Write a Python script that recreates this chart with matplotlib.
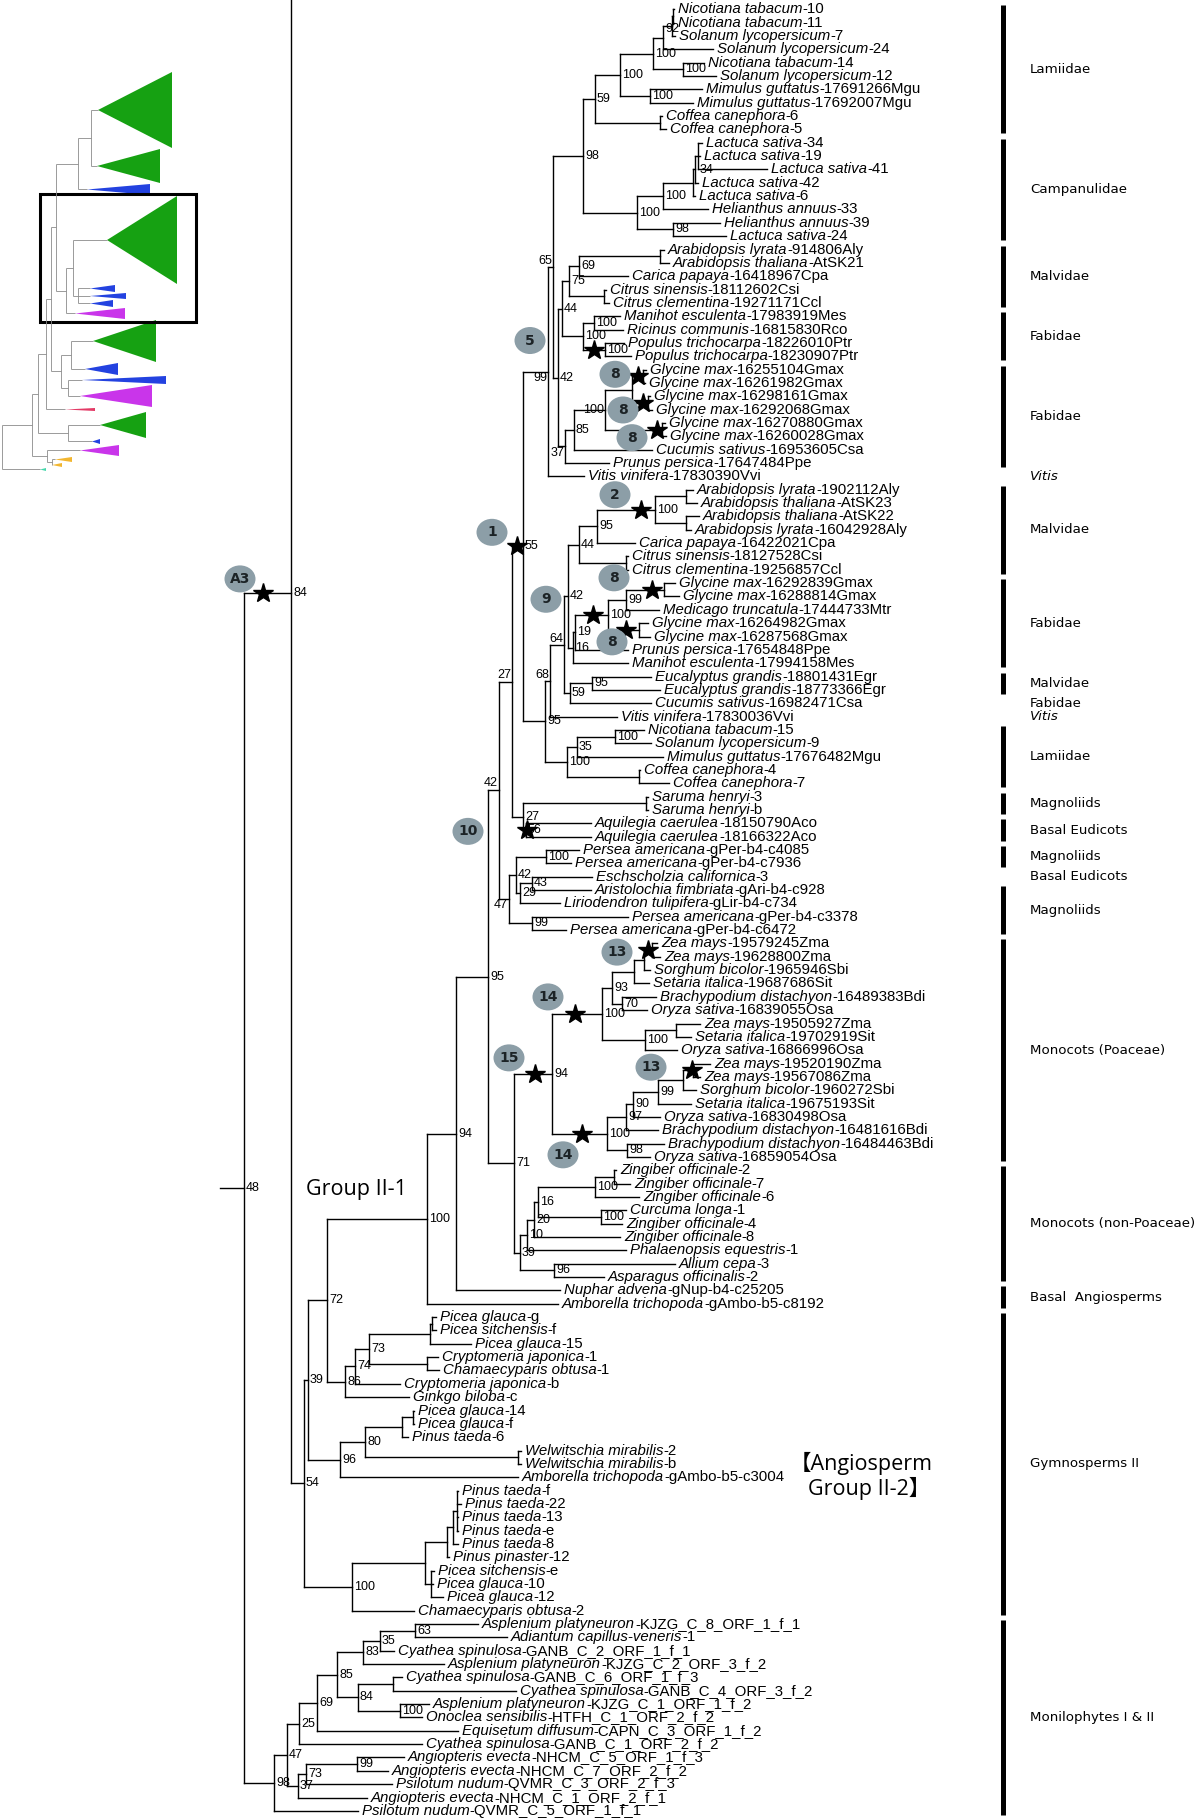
import matplotlib
matplotlib.use("Agg")
import matplotlib.pyplot as plt
from matplotlib.collections import LineCollection
from matplotlib.patches import Ellipse, Polygon, Rectangle

plt.rcParams['font.family'] = ['Liberation Sans', 'DejaVu Sans']

# ---------------- tree data: Newick, "genus species|-id" (italic part before |) ----------------
LAMIIDAE = (
    "(((((('Nicotiana tabacum|-10':0.001,'Nicotiana tabacum|-11':0.001):0.001,"
    "'Solanum lycopersicum|-7':0.003):0.009,'Solanum lycopersicum|-24':0.050)92:0.010,"
    "('Nicotiana tabacum|-14':0.021,'Solanum lycopersicum|-12':0.033)100:0.030)100:0.033,"
    "('Mimulus guttatus|-17691266Mgu':0.052,'Mimulus guttatus|-17692007Mgu':0.043)100:0.030)100:0.025,"
    "('Coffea canephora|-6':0.002,'Coffea canephora|-5':0.006):0.065)59:0.012"
)
CAMPANULIDAE = (
    "((((('Lactuca sativa|-34':0.004,'Lactuca sativa|-19':0.002,'Lactuca sativa|-41':0.069)34:0.003,"
    "'Lactuca sativa|-42':0.003):0.002,'Lactuca sativa|-6':0.002):0.030,"
    "'Helianthus annuus|-33':0.045)100:0.026,"
    "('Helianthus annuus|-39':0.047,'Lactuca sativa|-24':0.053)98:0.036)100:0.054"
)
ROSIDS_A = (
    "((((('Arabidopsis lyrata|-914806Aly':0.004,'Arabidopsis thaliana|-AtSK21':0.009):0.081,"
    "'Carica papaya|-16418967Cpa':0.049)69:0.010,"
    "('Citrus sinensis|-18112602Csi':0.002,'Citrus clementina|-19271171Ccl':0.005):0.035)75:0.007,"
    "(('Manihot esculenta|-17983919Mes':0.026,'Ricinus communis|-16815830Rco':0.029)100:0.011,"
    "('Populus trichocarpa|-18226010Ptr':0.019,'Populus trichocarpa|-18230907Ptr':0.026)100:0.022)100:0.021)44:0.004,"
    "((((('Glycine max|-16255104Gmax':0.003,'Glycine max|-16261982Gmax':0.002):0.011,"
    "('Glycine max|-16298161Gmax':0.002,'Glycine max|-16292068Gmax':0.004):0.016):0.027,"
    "('Glycine max|-16270880Gmax':0.003,'Glycine max|-16260028Gmax':0.004):0.057)100:0.031,"
    "'Cucumis sativus|-16953605Csa':0.078)85:0.009,"
    "'Prunus persica|-17647484Ppe':0.044)37:0.007)42:0.005"
)
ROSIDS_B = (
    "((((((('Arabidopsis lyrata|-1902112Aly':0.007,'Arabidopsis thaliana|-AtSK23':0.011):0.031,"
    "('Arabidopsis thaliana|-AtSK22':0.013,'Arabidopsis lyrata|-16042928Aly':0.005):0.031)100:0.058,"
    "'Carica papaya|-16422021Cpa':0.038)95:0.018,"
    "('Citrus sinensis|-18127528Csi':0.002,'Citrus clementina|-19256857Ccl':0.002):0.047)44:0.011,"
    "((((('Glycine max|-16292839Gmax':0.011,'Glycine max|-16288814Gmax':0.015):0.038,"
    "'Medicago truncatula|-17444733Mtr':0.033)99:0.018,"
    "('Glycine max|-16264982Gmax':0.009,'Glycine max|-16287568Gmax':0.011):0.031)100:0.033,"
    "'Prunus persica|-17654848Ppe':0.053)19:0.002,"
    "'Manihot esculenta|-17994158Mes':0.055)16:0.005)42:0.004,"
    "(('Eucalyptus grandis|-18801431Egr':0.059,'Eucalyptus grandis|-18773366Egr':0.068)95:0.022,"
    "'Cucumis sativus|-16982471Csa':0.081)59:0.006)64:0.014,"
    "'Vitis vinifera|-17830036Vvi':0.067)68:0.005"
)
LAMIIDAE_2 = (
    "((('Nicotiana tabacum|-15':0.029,'Solanum lycopersicum|-9':0.036)100:0.038,"
    "'Mimulus guttatus|-17676482Mgu':0.086)35:0.010,"
    "('Coffea canephora|-4':0.001,'Coffea canephora|-7':0.030):0.072)100:0.022"
)
SARUMA_AQUILEGIA = (
    "(('Saruma henryi|-3':0.002,'Saruma henryi|-b':0.002):0.123,"
    "('Aquilegia caerulea|-18150790Aco':0.065,'Aquilegia caerulea|-18166322Aco':0.065)56:0.003)27:0.011"
)
MAGNOLIIDS = (
    "((('Persea americana|-gPer-b4-c4085':0.033,'Persea americana|-gPer-b4-c7936':0.025)100:0.030,"
    "(('Eschscholzia californica|-3':0.060,'Aristolochia fimbriata|-gAri-b4-c928':0.059)43:0.012,"
    "'Liriodendron tulipifera|-gLir-b4-c734':0.040)29:0.004)42:0.007,"
    "('Persea americana|-gPer-b4-c3378':0.096,'Persea americana|-gPer-b4-c6472':0.034)99:0.023)47:0.010"
)
POACEAE = (
    "(((((('Zea mays|-19579245Zma':0.005,'Zea mays|-19628800Zma':0.008):0.008,"
    "'Sorghum bicolor|-1965946Sbi':0.006):0.010,'Setaria italica|-19687686Sit':0.015):0.022,"
    "('Brachypodium distachyon|-16489383Bdi':0.034,'Oryza sativa|-16839055Osa':0.025)70:0.010)93:0.010,"
    "(('Zea mays|-19505927Zma':0.024,'Setaria italica|-19702919Sit':0.015):0.031,"
    "'Oryza sativa|-16866996Osa':0.032)100:0.043)100:0.050,"
    "(((((('Zea mays|-19520190Zma':0.017,'Zea mays|-19567086Zma':0.007):0.010,"
    "'Sorghum bicolor|-1960272Sbi':0.013):0.025,'Setaria italica|-19675193Sit':0.033)99:0.025,"
    "'Oryza sativa|-16830498Osa':0.027)90:0.007,'Brachypodium distachyon|-16481616Bdi':0.032)97:0.019,"
    "('Brachypodium distachyon|-16484463Bdi':0.037,'Oryza sativa|-16859054Osa':0.023)98:0.020)100:0.055)94:0.038"
)
OTHER_MONOCOTS = (
    "(((((('Zingiber officinale|-2':0.002,'Zingiber officinale|-7':0.016):0.019,"
    "'Zingiber officinale|-6':0.044)100:0.057,"
    "('Curcuma longa|-1':0.025,'Zingiber officinale|-4':0.021)100:0.063)16:0.004,"
    "'Zingiber officinale|-8':0.086)20:0.007,'Phalaenopsis equestris|-1':0.099)10:0.007,"
    "('Allium cepa|-3':0.121,'Asparagus officinalis|-2':0.050)96:0.034)39:0.006"
)
GYMNO_A = (
    "((((('Picea glauca|-g':0.004,'Picea sitchensis|-f':0.004):0.002,'Picea glauca|-15':0.041):0.061,"
    "('Cryptomeria japonica|-1':0.011,'Chamaecyparis obtusa|-1':0.012):0.058)73:0.014,"
    "'Cryptomeria japonica|-b':0.045)74:0.010,'Ginkgo biloba|-c':0.064)86:0.018"
)
GYMNO_B = (
    "(((('Picea glauca|-14':0.001,'Picea glauca|-f':0.001):0.011,'Pinus taeda|-6':0.006):0.037,"
    "('Welwitschia mirabilis|-2':0.003,'Welwitschia mirabilis|-b':0.003):0.153)80:0.025,"
    "'Amborella trichopoda|-gAmbo-b5-c3004':0.178)96:0.032"
)
PINACEAE = (
    "((((('Pinus taeda|-f':0.001,'Pinus taeda|-22':0.004,'Pinus taeda|-13':0.001,'Pinus taeda|-e':0.001):0.004,"
    "'Pinus taeda|-8':0.005):0.006,'Pinus pinaster|-12':0.002):0.022,"
    "('Picea sitchensis|-e':0.003,'Picea glauca|-10':0.002,'Picea glauca|-12':0.012):0.006):0.073,"
    "'Chamaecyparis obtusa|-2':0.062)100:0.048"
)
FERNS = (
    "(((((((('Asplenium platyneuron|-KJZG_C_8_ORF_1_f_1':0.063,'Adiantum capillus-veneris|-1':0.092)63:0.035,"
    "'Cyathea spinulosa|-GANB_C_2_ORF_1_f_1':0.014)35:0.017,"
    "'Asplenium platyneuron|-KJZG_C_2_ORF_3_f_2':0.081)83:0.026,"
    "(('Cyathea spinulosa|-GANB_C_6_ORF_1_f_3':0.009,'Cyathea spinulosa|-GANB_C_4_ORF_3_f_2':0.123):0.035,"
    "('Asplenium platyneuron|-KJZG_C_1_ORF_1_f_2':0.029,'Onoclea sensibilis|-HTFH_C_1_ORF_2_f_2':0.022)100:0.042)84:0.021)85:0.020,"
    "'Equisetum diffusum|-CAPN_C_3_ORF_1_f_2':0.141)69:0.018,"
    "'Cyathea spinulosa|-GANB_C_1_ORF_2_f_2':0.123)25:0.012,"
    "((('Angiopteris evecta|-NHCM_C_5_ORF_1_f_3':0.047,'Angiopteris evecta|-NHCM_C_7_ORF_2_f_2':0.031)99:0.051,"
    "'Psilotum nudum|-QVMR_C_3_ORF_2_f_3':0.086)73:0.008,"
    "'Angiopteris evecta|-NHCM_C_1_ORF_2_f_1':0.069)37:0.011)47:0.013,"
    "'Psilotum nudum|-QVMR_C_5_ORF_1_f_1':0.084)98:0.030"
)

UPPER_EUDICOTS = "((" + "(" + LAMIIDAE + "," + CAMPANULIDAE + ")98:0.030," + ROSIDS_A + \
    ")65:0.005,'Vitis vinifera|-17830390Vvi':0.036)99:0.025"
CORE_EUDICOTS = "(" + UPPER_EUDICOTS + ",(" + ROSIDS_B + "," + LAMIIDAE_2 + ")95:0.022)55:0.011"
EUDICOTS = "(" + CORE_EUDICOTS + "," + SARUMA_AQUILEGIA + ")27:0.013"
MONOCOTS = "(" + POACEAE + "," + OTHER_MONOCOTS + ")71:0.026"
MESANGIOSPERMS = "((" + EUDICOTS + "," + MAGNOLIIDS + ")42:0.011," + MONOCOTS + ")95:0.032"
ANGIOSPERMS = "((" + MESANGIOSPERMS + ",'Nuphar advena|-gNup-b4-c25205':0.104)94:0.029," \
    "'Amborella trichopoda|-gAmbo-b5-c8192':0.131)100:0.100"
SEED_PLANTS = "(((" + ANGIOSPERMS + "," + GYMNO_A + ")72:0.019," + GYMNO_B + ")39:0.004," + PINACEAE + ")54:0.013"
TREE = "(('upper':0," + SEED_PLANTS + ")84:0.047," + FERNS + ")48:0.024;"

# rest of the big tree lies above the excerpt
hidden_rows = {"upper": -23}

# clade annotations on the right (leaf row ranges)
clade_names = ["Lamiidae", "Campanulidae", "Malvidae", "Fabidae", "Fabidae", "Vitis", "Malvidae",
               "Fabidae", "Malvidae", "Fabidae", "Vitis", "Lamiidae", "Magnoliids", "Basal Eudicots",
               "Magnoliids", "Basal Eudicots", "Magnoliids", "Monocots (Poaceae)",
               "Monocots (non-Poaceae)", "Basal  Angiosperms", "Gymnosperms II", "Monilophytes I & II"]
clade_first = [0, 10, 18, 23, 27, 35, 36, 43, 50, 52, 53, 54, 59, 61, 63, 65, 66, 70, 87, 96, 98, 121]
clade_last = [9, 17, 22, 26, 34, 35, 42, 49, 51, 52, 53, 58, 60, 62, 64, 65, 69, 86, 95, 97, 120, 135]
clade_bar = [1, 1, 1, 1, 1, 0, 1, 1, 1, 0, 0, 1, 1, 1, 1, 0, 1, 1, 1, 1, 1, 1]

# duplication stars: node = MRCA(a, b), drawn this many px left of the node
stars = [
    ("upper", "Chamaecyparis obtusa-2", 28),
    ("Nicotiana tabacum-10", "Coffea canephora-7", 6),
    ("Populus trichocarpa-18226010Ptr", "Populus trichocarpa-18230907Ptr", 11),
    ("Glycine max-16255104Gmax", "Glycine max-16261982Gmax", 5),
    ("Glycine max-16298161Gmax", "Glycine max-16292068Gmax", 5),
    ("Glycine max-16270880Gmax", "Glycine max-16260028Gmax", 5),
    ("Arabidopsis lyrata-1902112Aly", "Arabidopsis lyrata-16042928Aly", 14),
    ("Glycine max-16292839Gmax", "Glycine max-16287568Gmax", 15),
    ("Glycine max-16292839Gmax", "Glycine max-16288814Gmax", 12),
    ("Glycine max-16264982Gmax", "Glycine max-16287568Gmax", 13),
    ("Aquilegia caerulea-18150790Aco", "Aquilegia caerulea-18166322Aco", -1),
    ("Zea mays-19579245Zma", "Zea mays-19628800Zma", 4),
    ("Zea mays-19520190Zma", "Zea mays-19567086Zma", 1),
    ("Zea mays-19579245Zma", "Oryza sativa-16866996Osa", 27),
    ("Zea mays-19520190Zma", "Oryza sativa-16859054Osa", 25),
    ("Zea mays-19579245Zma", "Oryza sativa-16859054Osa", 17),
]
# numbered event badges: (text, MRCA a, MRCA b, dx, dy)
badges = [
    ("A3", "upper", "Chamaecyparis obtusa-2", -51, -14),
    ("5", "Nicotiana tabacum-10", "Vitis vinifera-17830390Vvi", -18, -31),
    ("8", "Glycine max-16255104Gmax", "Glycine max-16261982Gmax", -28, -2),
    ("8", "Glycine max-16298161Gmax", "Glycine max-16292068Gmax", -25, 7),
    ("8", "Glycine max-16270880Gmax", "Glycine max-16260028Gmax", -30, 8),
    ("2", "Arabidopsis lyrata-1902112Aly", "Arabidopsis lyrata-16042928Aly", -40, -15),
    ("1", "Nicotiana tabacum-10", "Coffea canephora-7", -31, -14),
    ("8", "Glycine max-16292839Gmax", "Glycine max-16288814Gmax", -50, -12),
    ("8", "Glycine max-16264982Gmax", "Glycine max-16287568Gmax", -27, 12),
    ("9", "Arabidopsis lyrata-1902112Aly", "Manihot esculenta-17994158Mes", -22, 3),
    ("10", "Nicotiana tabacum-10", "Persea americana-gPer-b4-c6472", -31, 41),
    ("13", "Zea mays-19579245Zma", "Zea mays-19628800Zma", -35, 2),
    ("13", "Zea mays-19520190Zma", "Zea mays-19567086Zma", -42, -3),
    ("14", "Zea mays-19579245Zma", "Oryza sativa-16866996Osa", -54, -17),
    ("14", "Zea mays-19520190Zma", "Oryza sativa-16859054Osa", -44, 21),
    ("15", "Zea mays-19579245Zma", "Oryza sativa-16859054Osa", -43, -16),
]
# support labels that sit left of their node or off its centre: (MRCA a, MRCA b, side, dy)
label_tweaks = [
    ("Nicotiana tabacum-10", "Prunus persica-17647484Ppe", "left", -6),
    ("Nicotiana tabacum-10", "Vitis vinifera-17830390Vvi", "left", 6),
    ("Glycine max-16255104Gmax", "Glycine max-16260028Gmax", "left", 0),
    ("Glycine max-16255104Gmax", "Prunus persica-17647484Ppe", "left", 7),
    ("Nicotiana tabacum-10", "Aquilegia caerulea-18166322Aco", "left", -7),
    ("Nicotiana tabacum-10", "Persea americana-gPer-b4-c6472", "left", -7),
    ("Persea americana-gPer-b4-c4085", "Persea americana-gPer-b4-c6472", "left", 6),
    ("Arabidopsis lyrata-1902112Aly", "Cucumis sativus-16982471Csa", "left", -6),
    ("Arabidopsis lyrata-1902112Aly", "Vitis vinifera-17830036Vvi", "left", -6),
    ("Lactuca sativa-34", "Lactuca sativa-41", "right", 14),
    ("Nicotiana tabacum-10", "Solanum lycopersicum-24", "right", -9),
]

# thumbnail of the whole tree (collapsed clades)
INSET_TREE = ("((((((((g1:7,g2:6):13,b3:9):22,((g4:34,(b5:12,b6:12,b7:12):5):7,m8:9):10):5,"
              "((g9:22,b10:14):10,(b11:14,m12:12):7):10):5,r13:19):8,(g14:32,b15:24):30):6,"
              "(m16:33,(o17:3,o18:0):5):15):30,t19:38);")
inset_names = ["g1", "g2", "b3", "g4", "b5", "b6", "b7", "m8", "g9", "b10", "b11", "m12",
               "r13", "g14", "b15", "m16", "o17", "o18", "t19"]
inset_heights = [76, 34, 11, 88, 7, 6, 7, 11, 42, 12, 8, 22, 3, 26, 5, 11, 5, 4, 3]
inset_tri_len = [74, 63, 63, 70, 25, 36, 23, 50, 63, 33, 84, 72, 30, 46, 8, 39, 17, 10, 6]
inset_palette = {"g": "#16a112", "b": "#2342e0", "m": "#c935ea", "r": "#e33a66",
                 "o": "#f2b630", "t": "#46d8ac"}


# ---------------- helpers ----------------
def parse(s):
    pos = 0

    def token():
        nonlocal pos
        if s[pos] == "'":
            end = s.index("'", pos + 1)
            t = s[pos + 1:end]
            pos = end + 1
            return t
        start = pos
        while pos < len(s) and s[pos] not in ":,();":
            pos += 1
        return s[start:pos]

    def node():
        nonlocal pos
        n = {"kids": [], "name": "", "label": "", "len": 0.0, "parent": None}
        if s[pos] == "(":
            pos += 1
            n["kids"].append(node())
            while s[pos] == ",":
                pos += 1
                n["kids"].append(node())
            pos += 1
            n["label"] = token()
        else:
            n["name"] = token()
        if pos < len(s) and s[pos] == ":":
            pos += 1
            n["len"] = float(token())
        for k in n["kids"]:
            k["parent"] = n
        return n

    return node()


def place(n, x, scale, leaf_y):
    n["x"] = x
    if not n["kids"]:
        n["y"] = leaf_y(n["name"])
    else:
        for k in n["kids"]:
            place(k, x + k["len"] * scale, scale, leaf_y)
        n["y"] = (n["kids"][0]["y"] + n["kids"][-1]["y"]) / 2


def walk(n):
    yield n
    for k in n["kids"]:
        yield from walk(k)


def segments(root):
    segs = []
    for n in walk(root):
        if n["kids"]:
            segs.append([(n["x"], n["kids"][0]["y"]), (n["x"], n["kids"][-1]["y"])])
            for k in n["kids"]:
                segs.append([(n["x"], k["y"]), (k["x"], k["y"])])
    return segs


# ---------------- layout ----------------
Y0, DY = 9.3, 13.345
SCALE, ROOT_X = 1000.0, 220.0

root = parse(TREE)
row_counter = [0]


def main_leaf_y(name):
    key = name.replace("|", "")
    if key in hidden_rows:
        return Y0 + DY * hidden_rows[key]
    r = row_counter[0]
    row_counter[0] += 1
    return Y0 + DY * r


place(root, ROOT_X + root["len"] * SCALE, SCALE, main_leaf_y)
leaves = {n["name"].replace("|", ""): n for n in walk(root) if not n["kids"]}


def mrca(a, b):
    anc = set()
    n = leaves[a]
    while n is not None:
        anc.add(id(n))
        n = n["parent"]
    n = leaves[b]
    while id(n) not in anc:
        n = n["parent"]
    return n


tweak = {id(mrca(a, b)): (side, dy) for a, b, side, dy in label_tweaks}

fig = plt.figure(figsize=(12, 18.19), dpi=100)
ax = fig.add_axes([0, 0, 1, 1])
ax.set_xlim(0, 1200)
ax.set_ylim(1819, 0)
ax.axis("off")

segs = segments(root)
segs.append([(ROOT_X, root["y"]), (root["x"], root["y"])])
ax.add_collection(LineCollection(segs, colors="black", linewidths=1.0, capstyle="projecting"))

LEAF_FS = 10.8
for n in walk(root):
    if not n["kids"] and "|" in n["name"]:
        sp, sid = n["name"].split("|")
        t = ax.text(n["x"] + 4, n["y"], sp, style="italic", fontsize=LEAF_FS,
                    va="center", ha="left")
        ax.annotate(sid, xy=(1, 0), xycoords=t, va="bottom", ha="left", fontsize=LEAF_FS)
    elif n["kids"] and n["label"]:
        side, dy = tweak.get(id(n), ("right", 0))
        if side == "left":
            ax.text(n["x"] - 1, n["y"] + dy, n["label"], fontsize=9, va="center", ha="right")
        else:
            ax.text(n["x"] + 2, n["y"] + dy, n["label"], fontsize=9, va="center", ha="left")

# stars
sx, sy = [], []
for a, b, dx in stars:
    nd = mrca(a, b)
    sx.append(nd["x"] - dx)
    sy.append(nd["y"])
ax.plot(sx, sy, ls="none", marker="*", ms=15, color="black", zorder=5)

# badges
for txt, a, b, dx, dy in badges:
    nd = mrca(a, b)
    cx, cy = nd["x"] + dx, nd["y"] + dy
    ax.add_patch(Ellipse((cx, cy), 31, 27, facecolor="#8c9ea7", edgecolor="none", zorder=6))
    ax.text(cx, cy, txt, fontsize=10, fontweight="bold", family="DejaVu Sans",
            color="#1c2326", ha="center", va="center", zorder=7)

# clade bars and names
for name, f, l, bar in zip(clade_names, clade_first, clade_last, clade_bar):
    ya, yb = Y0 + DY * f, Y0 + DY * l
    if bar:
        ax.plot([1003, 1003], [ya - 0.3 * DY, yb + 0.3 * DY], color="black", lw=3.6,
                solid_capstyle="butt")
    ax.text(1030, (ya + yb) / 2, name, family="DejaVu Sans", fontsize=9.6, va="center",
            ha="left", style="italic" if name == "Vitis" else "normal")

# group captions
ax.text(306, 1189, "Group II-1", family=["Open Sans", "DejaVu Sans"], fontsize=15.5,
        va="center", ha="left")
ax.text(790, 1463, "【Angiosperm", family=["Open Sans", "Noto Sans CJK SC"], fontsize=15.5,
        va="center", ha="left")
ax.text(808, 1488, "Group II-2】", family=["Open Sans", "Noto Sans CJK SC"], fontsize=15.5,
        va="center", ha="left")

# ---------------- thumbnail ----------------
inset_root = parse(INSET_TREE)
centers, spans = {}, {}
top = 72.0
for nm, h in zip(inset_names, inset_heights):
    centers[nm] = top + h / 2
    spans[nm] = (top, top + h)
    top += h + 1
place(inset_root, 2.0, 1.0, lambda nm: centers[nm])
ax.add_collection(LineCollection(segments(inset_root), colors="#8a8a8a", linewidths=0.6))
inset_leaves = {n["name"]: n for n in walk(inset_root) if not n["kids"]}
for nm, tl in zip(inset_names, inset_tri_len):
    nd = inset_leaves[nm]
    t0, t1 = spans[nm]
    ax.add_patch(Polygon([(nd["x"], nd["y"]), (nd["x"] + tl, t0), (nd["x"] + tl, t1)],
                         closed=True, facecolor=inset_palette[nm[0]], edgecolor="none"))
box_top = spans["g4"][0] - 2
box_bot = spans["m8"][1] + 3
ax.add_patch(Rectangle((40, box_top), 156, box_bot - box_top, fill=False,
                       edgecolor="black", lw=2.2))

fig.savefig("out.png", dpi=100)
